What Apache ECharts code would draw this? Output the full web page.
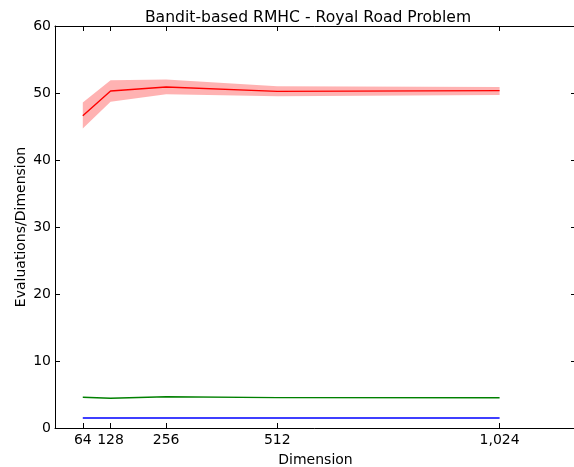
<!DOCTYPE html>
<html>
<head>
<meta charset="utf-8">
<script src="https://cdn.jsdelivr.net/npm/echarts@6/dist/echarts.min.js"></script>
<style>html,body{margin:0;padding:0;background:#fff;overflow:hidden;}#c{width:574px;height:467px;}</style>
</head>
<body>
<div id="c"></div>
<script>
var dims = [64, 128, 256, 512, 1024];
var redMean = [46.6, 50.3, 50.9, 50.25, 50.35];
var redLow = [44.7, 48.7, 49.8, 49.5, 49.7];
var redHigh = [48.6, 51.9, 52.0, 51.0, 50.9];
var greenMean = [4.58, 4.43, 4.67, 4.53, 4.52];
var blueMean = [1.5, 1.5, 1.5, 1.5, 1.5];
var xTicks = [64, 128, 256, 512, 1024];
var yTicks = [0, 10, 20, 30, 40, 50, 60];

function pairs(ys) { return dims.map(function (d, i) { return [d, ys[i]]; }); }
function fmtX(v) { return v >= 1000 ? String(v).replace(/\B(?=(\d{3})+(?!\d))/g, ',') : String(v); }

var FONT = 'DejaVu Sans';
var chart = echarts.init(document.getElementById('c'), null, { renderer: 'canvas' });
var axisLineStyle = { color: '#000', width: 1 };
var option = {
  animation: false,
  backgroundColor: '#fff',
  title: {
    text: 'Bandit-based RMHC - Royal Road Problem',
    left: 303, top: 5, textAlign: 'center',
    textStyle: { fontFamily: FONT, fontSize: 15.6, fontWeight: 'normal', color: '#000' }
  },
  grid: { left: 55, right: -2, top: 26, bottom: 39, containLabel: false, outerBoundsMode: 'none' },
  xAxis: [{
    type: 'value', min: 0, max: 1200, position: 'bottom',
    name: 'Dimension', nameLocation: 'middle', nameGap: 25, nameMoveOverlap: false,
    nameTextStyle: { fontFamily: FONT, fontSize: 14, color: '#000' },
    axisLine: { show: true, lineStyle: axisLineStyle },
    axisTick: { show: true, inside: true, length: 5, customValues: xTicks, lineStyle: axisLineStyle },
    axisLabel: { customValues: xTicks, formatter: fmtX, fontFamily: FONT, fontSize: 14, color: '#000', margin: 5 },
    splitLine: { show: false }
  }, {
    type: 'value', min: 0, max: 1200, position: 'top',
    axisLine: { show: true, onZero: false, lineStyle: axisLineStyle },
    axisTick: { show: true, inside: true, length: 5, customValues: xTicks, lineStyle: axisLineStyle },
    axisLabel: { show: false },
    splitLine: { show: false }
  }],
  yAxis: [{
    type: 'value', min: 0, max: 60, interval: 10, position: 'left',
    name: 'Evaluations/Dimension', nameLocation: 'middle', nameGap: 27, nameMoveOverlap: false,
    nameTextStyle: { fontFamily: FONT, fontSize: 14, color: '#000' },
    axisLine: { show: true, onZero: false, lineStyle: axisLineStyle },
    axisTick: { show: true, inside: true, length: 5, lineStyle: axisLineStyle },
    axisLabel: { fontFamily: FONT, fontSize: 14, color: '#000', margin: 4 },
    splitLine: { show: false }
  }, {
    type: 'value', min: 0, max: 60, interval: 10, position: 'right',
    axisLine: { show: true, onZero: false, lineStyle: axisLineStyle },
    axisTick: { show: true, inside: true, length: 5, lineStyle: axisLineStyle },
    axisLabel: { show: false },
    splitLine: { show: false }
  }],
  series: [
    {
      type: 'custom', z: 1, silent: true,
      data: dims.map(function (d, i) { return [d, redLow[i], redHigh[i]]; }),
      renderItem: function (params, api) {
        if (params.dataIndex !== 0) return null;
        var pts = [];
        for (var i = 0; i < dims.length; i++) pts.push(api.coord([dims[i], redHigh[i]]));
        for (var j = dims.length - 1; j >= 0; j--) pts.push(api.coord([dims[j], redLow[j]]));
        return { type: 'polygon', shape: { points: pts }, style: { fill: 'rgba(255,0,0,0.3)', stroke: null } };
      }
    },
    { type: 'line', z: 3, data: pairs(redMean), symbol: 'none', lineStyle: { color: '#ff0000', width: 1.4 } },
    { type: 'line', z: 3, data: pairs(greenMean), symbol: 'none', lineStyle: { color: '#008000', width: 1.4 } },
    { type: 'line', z: 3, data: pairs(blueMean), symbol: 'none', lineStyle: { color: '#0000ff', width: 1.5 } }
  ]
};
chart.setOption(option);
</script>
</body>
</html>
